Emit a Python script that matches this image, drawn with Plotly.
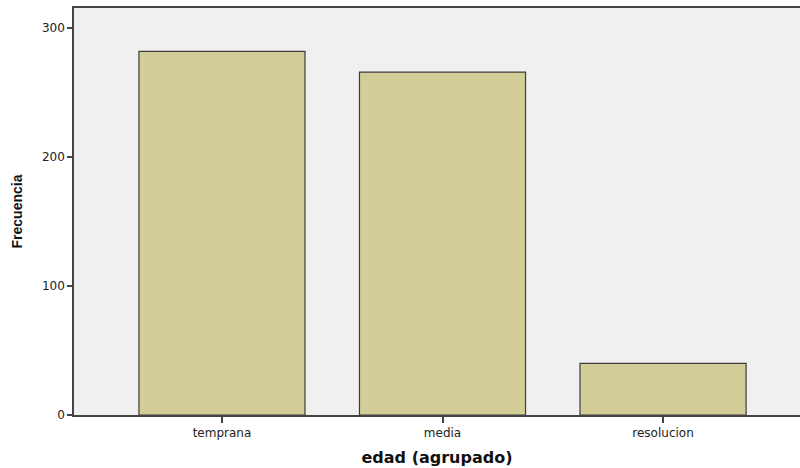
import plotly.graph_objects as go

categories = ["temprana", "media", "resolucion"]
frecuencia = [282, 266, 40]
y_ticks = [0, 100, 200, 300]

fig = go.Figure()
fig.add_trace(go.Bar(
    x=categories, y=frecuencia, width=0.753,
    marker=dict(color="#D3CE98", line=dict(color="#3c3c3c", width=1.2)),
    hoverinfo="skip",
))
fig.update_layout(
    width=800, height=468,
    margin=dict(l=74, r=0, t=8, b=53),
    paper_bgcolor="white", plot_bgcolor="#F0F0F0",
    showlegend=False,
    font=dict(family="DejaVu Sans, sans-serif", color="#222222"),
)
fig.update_xaxes(
    type="category", range=[-0.671, 2.621], automargin=False,
    showline=True, linecolor="#444444", linewidth=1.5, mirror=True,
    ticks="outside", ticklen=6, tickcolor="#444444", tickwidth=1.5,
    tickfont=dict(family="DejaVu Sans, sans-serif", size=12, color="#222222"), showgrid=False,
    title=dict(text="<b>edad (agrupado)</b>",
               font=dict(family="DejaVu Sans, sans-serif", size=16, color="#111111"), standoff=13),
)
fig.update_yaxes(
    range=[0, 315.7], tickvals=y_ticks, automargin=False,
    showline=True, linecolor="#444444", linewidth=1.5,
    ticks="outside", ticklen=5, tickcolor="#444444", tickwidth=1.5,
    tickfont=dict(family="DejaVu Sans, sans-serif", size=12, color="#222222"), showgrid=False, zeroline=False,
    title=dict(text="<b>Frecuencia</b>",
               font=dict(family="Liberation Sans, Arial, sans-serif", size=14, color="#111111"), standoff=16),
)
fig.write_html("out.html", config={"displayModeBar": False},
               post_script="document.body.style.margin='0';document.body.style.overflow='hidden';")
